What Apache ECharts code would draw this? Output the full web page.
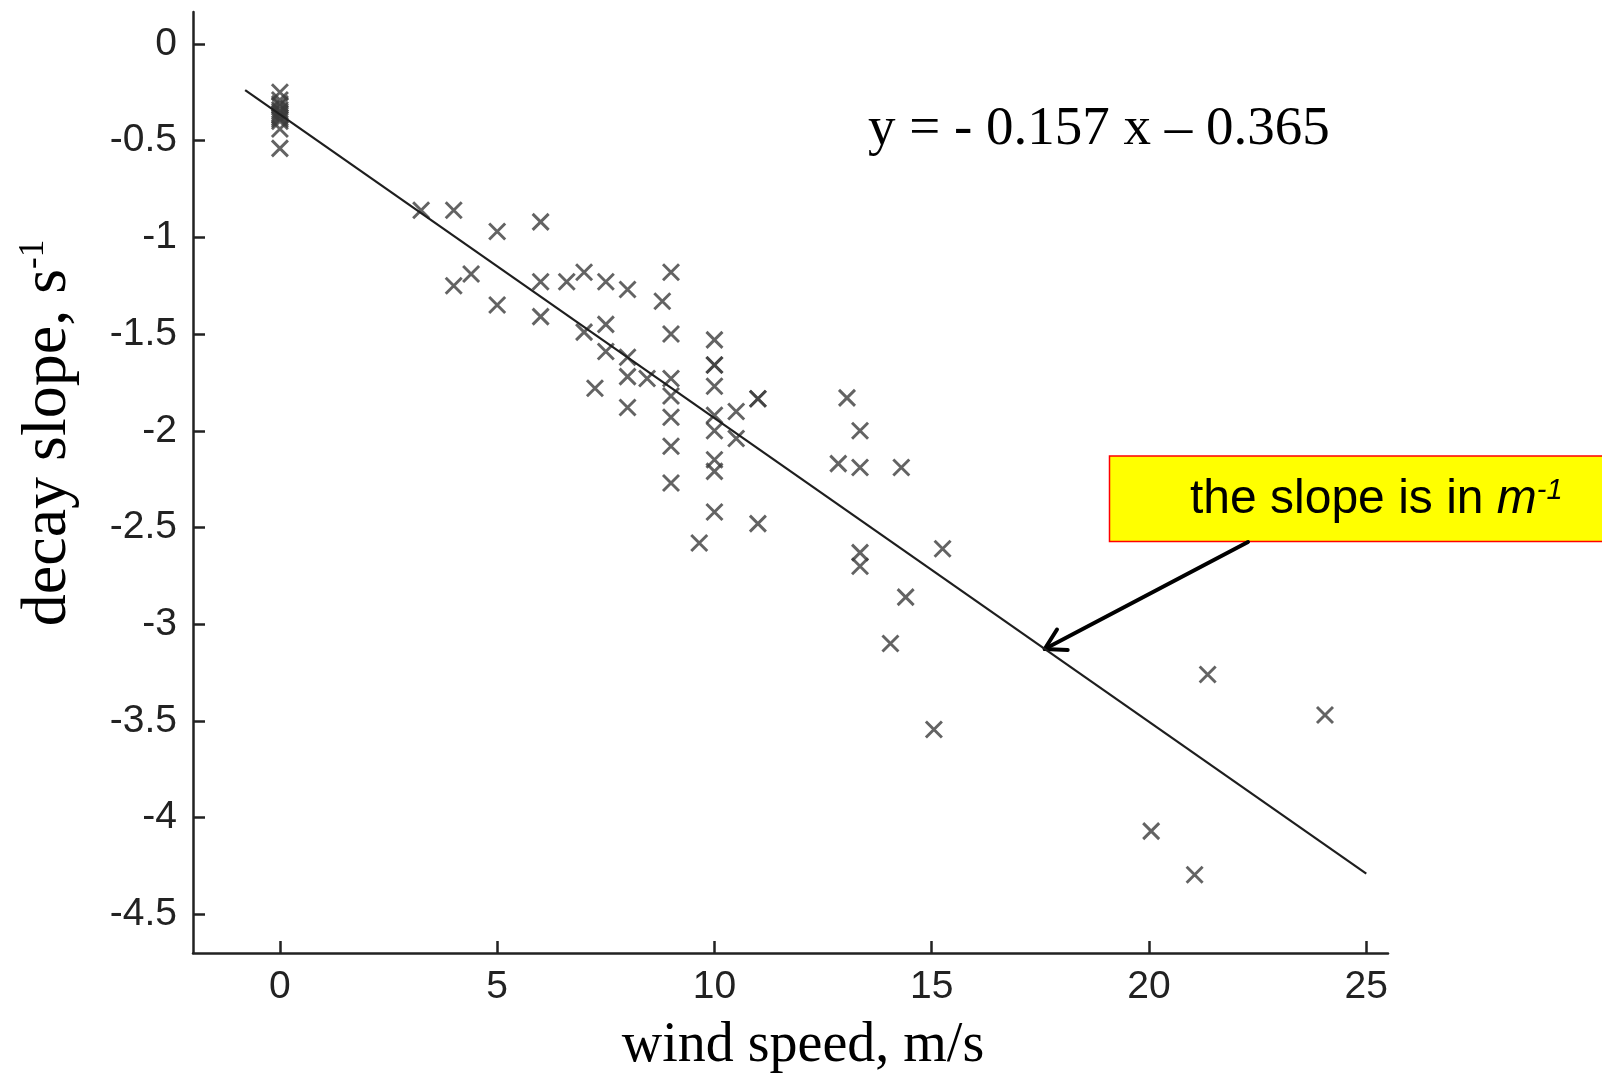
<!DOCTYPE html>
<html>
<head>
<meta charset="utf-8">
<script src="https://cdn.jsdelivr.net/npm/echarts@6/dist/echarts.min.js"></script>
<style>
html, body { margin: 0; padding: 0; background: #fff; }
#chart { width: 1602px; height: 1081px; }
</style>
</head>
<body>
<div id="chart"></div>
<script>
var windSpeed = [
    0, 0, 0, 0, 0, 0, 0, 0, 0, 0, 0, 0, 0,
    3.25, 4.0, 4.0, 4.4, 5.0, 5.0, 6.0, 6.0, 6.0, 6.6,
    7.0, 7.0, 7.25, 7.5, 7.5, 7.5, 8.0, 8.0, 8.0, 8.0, 8.45, 8.8,
    9.0, 9.0, 9.0, 9.0, 9.0, 9.0, 9.0, 9.65,
    10, 10, 10, 10, 10, 10, 10, 10, 10, 10.5, 10.5, 11, 11, 11,
    12.85, 13.05, 13.35, 13.35, 13.35, 13.35, 14.05, 14.3, 14.4, 15.05, 15.25,
    20.05, 21.05, 21.35, 24.05
];
var decaySlope = [
    -0.25, -0.29, -0.31, -0.32, -0.34, -0.35, -0.36, -0.37, -0.38, -0.39, -0.40, -0.44, -0.54,
    -0.86, -0.86, -1.25, -1.19, -0.97, -1.35, -0.92, -1.23, -1.41, -1.23,
    -1.18, -1.49, -1.78, -1.23, -1.45, -1.59, -1.27, -1.62, -1.72, -1.88, -1.73, -1.33,
    -1.18, -1.50, -1.73, -1.82, -1.93, -2.08, -2.27, -2.58,
    -1.53, -1.66, -1.66, -1.77, -1.92, -2.00, -2.15, -2.21, -2.42, -1.90, -2.04, -1.835, -1.835, -2.48,
    -2.17, -1.83, -2.00, -2.19, -2.63, -2.70, -3.10, -2.19, -2.86, -3.545, -2.61,
    -4.07, -4.295, -3.26, -3.47
];

var xTicks = [0, 5, 10, 15, 20, 25];
var yTicks = [0, -0.5, -1, -1.5, -2, -2.5, -3, -3.5, -4, -4.5];

// linear fit shown on the figure
var fitSlope = -0.157;
var fitIntercept = -0.365;
var fitRange = [-0.8, 25];

var points = windSpeed.map(function (x, i) { return [x, decaySlope[i]]; });
var fitLine = fitRange.map(function (x) { return [x, fitSlope * x + fitIntercept]; });

var chart = echarts.init(document.getElementById('chart'));

var axisColor = '#222';
var tickFont = { fontFamily: 'Liberation Sans', fontSize: 39, color: '#222' };

var option = {
    backgroundColor: '#fff',
    animation: false,
    grid: { left: 193, right: 214, top: 12, bottom: 128 },
    xAxis: {
        type: 'value',
        min: -2,
        max: 25.5,
        axisLine: { onZero: false, lineStyle: { color: axisColor, width: 2.5 } },
        axisTick: { inside: true, length: 12, customValues: xTicks, lineStyle: { color: axisColor, width: 2.5 } },
        axisLabel: Object.assign({ customValues: xTicks, margin: 15 }, tickFont),
        splitLine: { show: false }
    },
    yAxis: {
        type: 'value',
        min: -4.7,
        max: 0.165,
        axisLine: { onZero: false, lineStyle: { color: axisColor, width: 2.5 } },
        axisTick: { inside: true, length: 12, customValues: yTicks, lineStyle: { color: axisColor, width: 2.5 } },
        axisLabel: Object.assign({ customValues: yTicks, margin: 16 }, tickFont),
        splitLine: { show: false }
    },
    series: [
        {
            type: 'scatter',
            data: points,
            symbol: 'path://M0,0L10,10M10,0L0,10',
            symbolSize: 16,
            itemStyle: { color: 'rgba(0,0,0,0)', borderColor: '#3c3c3c', borderWidth: 2.9 },
            z: 2
        },
        {
            type: 'line',
            data: fitLine,
            symbol: 'none',
            lineStyle: { color: '#1e1e1e', width: 2.2 },
            z: 3
        }
    ]
};
chart.setOption(option);

// annotations
var arrowStart = [1248, 542];
var arrowX = 17.6;
var tip = chart.convertToPixel({ gridIndex: 0 }, [arrowX, fitSlope * arrowX + fitIntercept]);
var dx = arrowStart[0] - tip[0], dy = arrowStart[1] - tip[1];
var len = Math.sqrt(dx * dx + dy * dy);
var ux = dx / len, uy = dy / len;
var armLen = 23, ang = Math.PI / 6;
function arm(sign) {
    var c = Math.cos(sign * ang), s = Math.sin(sign * ang);
    return [tip[0] + armLen * (ux * c - uy * s), tip[1] + armLen * (ux * s + uy * c)];
}

chart.setOption({
    graphic: [
        {
            type: 'text',
            x: 868, y: 130,
            style: {
                text: 'y = - 0.157 x \u2013 0.365',
                fontFamily: 'Liberation Serif',
                fontSize: 55,
                fill: '#000',
                align: 'left',
                verticalAlign: 'middle'
            }
        },
        {
            type: 'text',
            x: 48, y: 433,
            rotation: Math.PI / 2,
            style: {
                text: '{a|decay slope, s}{b|-1}',
                align: 'center',
                verticalAlign: 'middle',
                fill: '#000',
                rich: {
                    a: { fontFamily: 'Liberation Serif', fontSize: 64, fill: '#000' },
                    b: { fontFamily: 'Liberation Serif', fontSize: 35, fill: '#000', verticalAlign: 'top' }
                }
            }
        },
        {
            type: 'text',
            x: 803, y: 1046,
            style: {
                text: 'wind speed, m/s',
                fontFamily: 'Liberation Serif',
                fontSize: 56,
                fill: '#000',
                align: 'center',
                verticalAlign: 'middle'
            }
        },
        {
            type: 'rect',
            shape: { x: 1109.5, y: 456, width: 520, height: 85.5 },
            style: { fill: '#ffff00', stroke: '#ff0000', lineWidth: 1.5 }
        },
        {
            type: 'text',
            x: 1190, y: 500,
            style: {
                text: '{a|the slope is in }{b|m}{c|-1}',
                align: 'left',
                verticalAlign: 'middle',
                fill: '#000',
                rich: {
                    a: { fontFamily: 'Liberation Sans', fontSize: 48, fill: '#000' },
                    b: { fontFamily: 'Liberation Sans', fontSize: 48, fontStyle: 'italic', fill: '#000' },
                    c: { fontFamily: 'Liberation Sans', fontSize: 29, fontStyle: 'italic', fill: '#000', verticalAlign: 'top' }
                }
            }
        },
        {
            type: 'line',
            shape: { x1: arrowStart[0], y1: arrowStart[1], x2: tip[0], y2: tip[1] },
            style: { stroke: '#000', lineWidth: 4, lineCap: 'round' }
        },
        {
            type: 'polyline',
            shape: { points: [arm(1), tip, arm(-1)] },
            style: { stroke: '#000', lineWidth: 4, lineCap: 'round', lineJoin: 'round', fill: null }
        }
    ]
});
</script>
</body>
</html>
